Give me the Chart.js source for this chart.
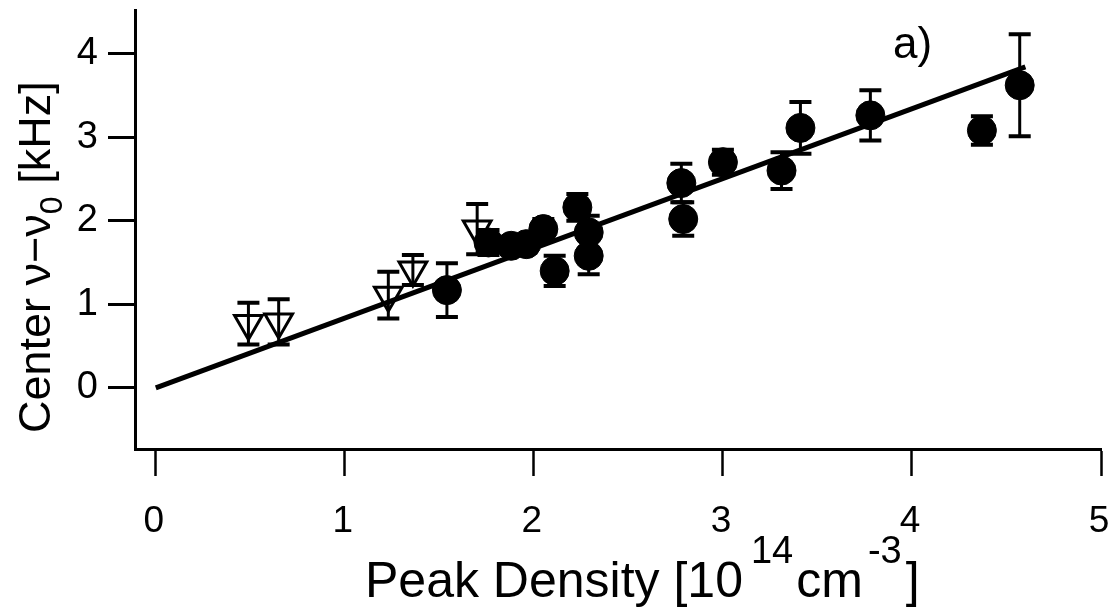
<!DOCTYPE html>
<html>
<head>
<meta charset="utf-8">
<script src="https://cdn.jsdelivr.net/npm/chart.js@4.4.1/dist/chart.umd.min.js"></script>
<style>
  html, body { margin: 0; padding: 0; background: #fff; }
</style>
</head>
<body>
<canvas id="myChart" width="1109" height="611"></canvas>
<script>
// Data ==================================================================
// filled circles
var circleX = [1.54, 1.76, 1.88, 1.96, 2.05, 2.11, 2.23, 2.29, 2.29, 2.78, 2.79, 3.00, 3.31, 3.41, 3.78, 4.37, 4.57];
var circleY = [1.17, 1.74, 1.70, 1.72, 1.90, 1.40, 2.16, 1.86, 1.58, 2.45, 2.02, 2.70, 2.60, 3.11, 3.26, 3.08, 3.62];
var circleErr = [0.32, 0.15, 0.10, 0.10, 0.12, 0.18, 0.16, 0.20, 0.22, 0.23, 0.20, 0.15, 0.22, 0.31, 0.30, 0.17, 0.61];

// open down-triangles
var triX = [0.49, 0.65, 1.23, 1.36, 1.70];
var triY = [0.77, 0.79, 1.11, 1.41, 1.90];
var triErr = [0.25, 0.27, 0.28, 0.18, 0.30];

// linear fit
var fitX = [0, 4.6];
var fitY = [0, 3.84];

// axes
var xTicks = [0, 1, 2, 3, 4, 5];
var yTicks = [0, 1, 2, 3, 4];

var fontFamily = '"Liberation Sans", Arial, Helvetica, sans-serif';

function toPoints(xs, ys) {
  return xs.map(function(x, i) { return { x: x, y: ys[i] }; });
}

// Plugins ===============================================================

// vertical error bars with caps, drawn over the markers
var errorBars = {
  id: 'errorBars',
  afterDatasetsDraw: function(chart) {
    var ctx = chart.ctx;
    var yScale = chart.scales.y;
    ctx.save();
    ctx.strokeStyle = '#000';
    chart.data.datasets.forEach(function(ds, i) {
      if (!ds.errors) return;
      var meta = chart.getDatasetMeta(i);
      meta.data.forEach(function(el, j) {
        var v = ds.data[j].y;
        var e = ds.errors[j];
        var top = yScale.getPixelForValue(v + e);
        var bot = yScale.getPixelForValue(v - e);
        ctx.lineWidth = 3;
        ctx.beginPath();
        ctx.moveTo(el.x, top);
        ctx.lineTo(el.x, bot);
        ctx.stroke();
        ctx.lineWidth = 4;
        ctx.beginPath();
        ctx.moveTo(el.x - 11, top);
        ctx.lineTo(el.x + 11, top);
        ctx.moveTo(el.x - 11, bot);
        ctx.lineTo(el.x + 11, bot);
        ctx.stroke();
      });
    });
    ctx.restore();
  }
};

// draws a row of text pieces (for super/subscripts), returns end x
function drawRun(ctx, parts, x, y) {
  parts.forEach(function(p) {
    x += p.gap || 0;
    ctx.font = p.size + 'px ' + fontFamily;
    ctx.fillText(p.t, x, y + (p.dy || 0));
    x += ctx.measureText(p.t).width;
  });
  return x;
}

var axisTitles = {
  id: 'axisTitles',
  afterDraw: function(chart) {
    var ctx = chart.ctx;
    ctx.save();
    ctx.fillStyle = '#000';
    ctx.textAlign = 'left';
    ctx.textBaseline = 'alphabetic';

    // x title
    drawRun(ctx, [
      { t: 'Peak Density [10', size: 50 },
      { t: '14', size: 38, dy: -34, gap: 8 },
      { t: 'cm', size: 50, gap: 3 },
      { t: '-3', size: 38, dy: -34, gap: 5 },
      { t: ']', size: 50, gap: 4 }
    ], 365, 597);

    // y title, rotated
    ctx.translate(50, 433);
    ctx.rotate(-Math.PI / 2);
    drawRun(ctx, [
      { t: 'Center \u03bd\u2212\u03bd', size: 45 },
      { t: '0', size: 32, dy: 12 },
      { t: ' [kHz]', size: 45 }
    ], 0, 0);
    ctx.restore();

    // panel label
    ctx.save();
    ctx.fillStyle = '#000';
    ctx.font = '44px ' + fontFamily;
    ctx.fillText('a)', chart.scales.x.getPixelForValue(3.9), chart.scales.y.getPixelForValue(3.94));
    ctx.restore();
  }
};

// Chart =================================================================
var canvas = document.getElementById('myChart');
var ctx = canvas.getContext('2d');

var axisBase = {
  type: 'linear',
  border: { display: true, color: '#000', width: 3 },
  grid: {
    drawOnChartArea: false,
    drawTicks: true,
    tickLength: 27,
    tickColor: '#000',
    tickWidth: 3,
    color: '#000'
  }
};

var myChart = new Chart(ctx, {
  type: 'scatter',
  data: {
    datasets: [{
      type: 'line',
      label: 'fit',
      data: toPoints(fitX, fitY),
      borderColor: '#000',
      borderWidth: 5,
      pointRadius: 0,
      fill: false
    }, {
      label: 'circles',
      data: toPoints(circleX, circleY),
      errors: circleErr,
      pointStyle: 'circle',
      pointRadius: 14.5,
      borderWidth: 1,
      backgroundColor: '#000',
      borderColor: '#000'
    }, {
      label: 'triangles',
      data: toPoints(triX, triY),
      errors: triErr,
      pointStyle: 'triangle',
      rotation: 180,
      pointRadius: 16,
      borderWidth: 3,
      backgroundColor: '#fff',
      borderColor: '#000'
    }]
  },
  options: {
    responsive: false,
    animation: false,
    devicePixelRatio: 1,
    layout: { autoPadding: false, padding: { left: 0, top: 10, right: 8, bottom: 0 } },
    plugins: {
      legend: { display: false },
      tooltip: { enabled: false }
    },
    scales: {
      x: Object.assign({}, axisBase, {
        position: 'bottom',
        min: -0.11,
        max: 5.0,
        afterBuildTicks: function(axis) {
          axis.ticks = xTicks.map(function(v) { return { value: v }; });
        },
        afterFit: function(axis) {
          axis.height = 162;
          axis.paddingLeft = 0;
          axis.paddingRight = 0;
        },
        grid: Object.assign({}, axisBase.grid, { tickWidth: 2.5 }),
        ticks: {
          color: '#000',
          padding: 24,
          maxRotation: 0,
          labelOffset: -2,
          font: { size: 37, family: fontFamily }
        }
      }),
      y: Object.assign({}, axisBase, {
        position: 'left',
        min: -0.73,
        max: 4.52,
        afterBuildTicks: function(axis) {
          axis.ticks = yTicks.map(function(v) { return { value: v }; });
        },
        afterFit: function(axis) {
          axis.width = 135;
          axis.paddingTop = 0;
          axis.paddingBottom = 0;
        },
        ticks: {
          color: '#000',
          padding: 10,
          font: { size: 38, family: fontFamily }
        }
      })
    }
  },
  plugins: [errorBars, axisTitles]
});
</script>
</body>
</html>
